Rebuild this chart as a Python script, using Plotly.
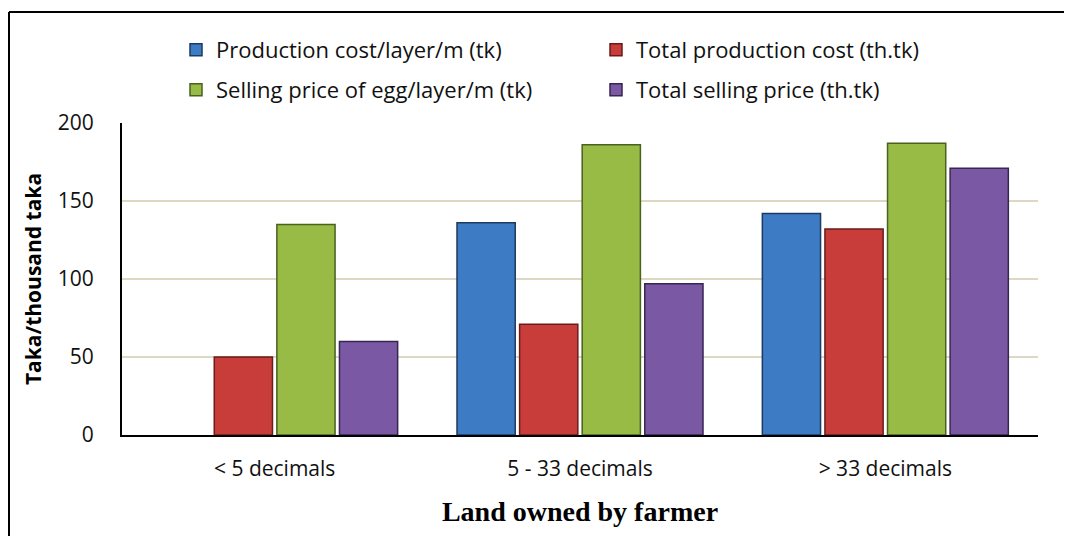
import plotly.graph_objects as go

categories = ["< 5 decimals", "5 - 33 decimals", "> 33 decimals"]
series_names = [
    "Production cost/layer/m (tk)",
    "Total production cost (th.tk)",
    "Selling price of egg/layer/m (tk)",
    "Total selling price (th.tk)",
]
production_cost_layer = [None, 136, 142]
total_production_cost = [50, 71, 132]
selling_price_egg = [135, 186, 187]
total_selling_price = [60, 97, 171]

y_ticks = [0, 50, 100, 150, 200]

values = [production_cost_layer, total_production_cost, selling_price_egg, total_selling_price]
fills = ["#3d7bc4", "#c83d3a", "#97bb45", "#7a58a4"]
edges = ["#1d3a60", "#6a1c1a", "#4a611f", "#372650"]
legend_ids = ["legend", "legend", "legend2", "legend2"]

LABEL_FONT = "Open Sans, Lato, sans-serif"

# page body has an 8px margin; figure is sized so that it fits the window
W, H = 1064, 528
ML, MR, MT, MB = 114, 34, 115, 101
PW = W - ML - MR   # plot width in px
PH = H - MT - MB   # plot height in px

fig = go.Figure()
for name, vals, fc, ec, lg in zip(series_names, values, fills, edges, legend_ids):
    fig.add_trace(go.Bar(
        x=categories, y=vals, name=name,
        marker=dict(color=fc, line=dict(color=ec, width=1.5)),
        legend=lg,
    ))

legend_common = dict(
    orientation="h", xanchor="left", yanchor="middle",
    entrywidth=375, entrywidthmode="pixels",
    font=dict(family=LABEL_FONT, size=22, color="#111111"),
    bgcolor="rgba(0,0,0,0)", itemclick=False, itemdoubleclick=False,
)

fig.update_layout(
    width=W, height=H,
    margin=dict(l=ML, r=MR, t=MT, b=MB),
    paper_bgcolor="white", plot_bgcolor="white",
    barmode="group", bargap=0.18, bargroupgap=0.07,
    legend=dict(x=54 / PW, y=(PH + 73) / PH, **legend_common),
    legend2=dict(x=54 / PW, y=(PH + 33) / PH, **legend_common),
    xaxis=dict(
        showline=True, linecolor="black", linewidth=2,
        showgrid=False, ticks="", ticklabelstandoff=14,
        tickfont=dict(family=LABEL_FONT, size=21, color="#111111"),
        title=dict(text="<b>Land owned by farmer</b>",
                   font=dict(family="Liberation Serif, Times New Roman, serif", size=28, color="black"),
                   standoff=20),
    ),
    yaxis=dict(
        range=[0, 200], tickvals=y_ticks,
        showline=True, linecolor="black", linewidth=2,
        showgrid=True, gridcolor="#dcd8c2", gridwidth=2,
        zeroline=False, ticks="", ticklabelstandoff=22,
        tickfont=dict(family=LABEL_FONT, size=21, color="#111111"),
        title=dict(text="<b>Taka/thousand taka</b>",
                   font=dict(family=LABEL_FONT, size=21, color="black"),
                   standoff=10),
    ),
    shapes=[
        dict(type="line", xref="paper", yref="paper",
             x0=-(ML - 1) / PW, x1=(W - ML + 10) / PW,
             y0=(PH + MT - 4) / PH, y1=(PH + MT - 4) / PH,
             line=dict(color="black", width=2)),
        dict(type="line", xref="paper", yref="paper",
             x0=-(ML - 1) / PW, x1=-(ML - 1) / PW,
             y0=(PH + MT - 4) / PH, y1=-(MB + 10) / PH,
             line=dict(color="black", width=2)),
    ],
)

fig.write_html("out.html")
